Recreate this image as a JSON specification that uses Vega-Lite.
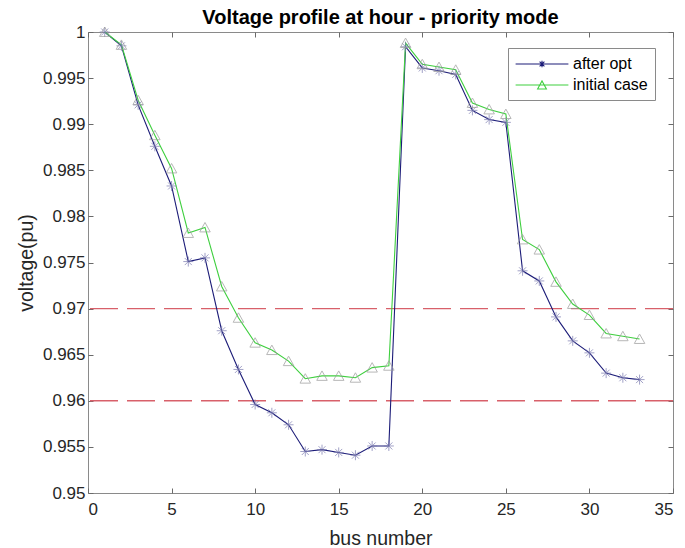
{
  "$schema": "https://vega.github.io/schema/vega-lite/v6.json",
  "autosize": {"type": "none"},
  "width": 585,
  "height": 461,
  "padding": {"left": 88, "top": 32, "right": 12, "bottom": 55},
  "background": "white",
  "config": {
    "view": {"stroke": "#8a8a8a", "strokeWidth": 1},
    "font": "Liberation Sans",
    "axis": {"grid": false, "domain": false, "tickColor": "#6a6a6a", "tickSize": -5, "labelFont": "Liberation Sans", "labelFontSize": 17, "labelColor": "#262626", "titleFont": "Liberation Sans", "titleFontSize": 19.5, "titleFontWeight": "normal", "titleColor": "#262626"}
  },
  "title": {"text": "Voltage profile at hour - priority mode", "font": "Liberation Sans", "fontSize": 20, "fontWeight": "bold", "color": "#000000", "offset": -5},
  "datasets": {
    "rules": [{"v": 0.97}, {"v": 0.96}],
    "volt": [
      {"bus": 1, "series": "after opt", "v": 1.0},
      {"bus": 2, "series": "after opt", "v": 0.9985},
      {"bus": 3, "series": "after opt", "v": 0.9921},
      {"bus": 4, "series": "after opt", "v": 0.9876},
      {"bus": 5, "series": "after opt", "v": 0.9833},
      {"bus": 6, "series": "after opt", "v": 0.9751},
      {"bus": 7, "series": "after opt", "v": 0.9755},
      {"bus": 8, "series": "after opt", "v": 0.9676},
      {"bus": 9, "series": "after opt", "v": 0.9634},
      {"bus": 10, "series": "after opt", "v": 0.9596},
      {"bus": 11, "series": "after opt", "v": 0.9587},
      {"bus": 12, "series": "after opt", "v": 0.9574},
      {"bus": 13, "series": "after opt", "v": 0.9545},
      {"bus": 14, "series": "after opt", "v": 0.9547},
      {"bus": 15, "series": "after opt", "v": 0.9544},
      {"bus": 16, "series": "after opt", "v": 0.9541},
      {"bus": 17, "series": "after opt", "v": 0.9551},
      {"bus": 18, "series": "after opt", "v": 0.9551},
      {"bus": 19, "series": "after opt", "v": 0.9984},
      {"bus": 20, "series": "after opt", "v": 0.9961},
      {"bus": 21, "series": "after opt", "v": 0.9958},
      {"bus": 22, "series": "after opt", "v": 0.9954},
      {"bus": 23, "series": "after opt", "v": 0.9915},
      {"bus": 24, "series": "after opt", "v": 0.9905},
      {"bus": 25, "series": "after opt", "v": 0.9902},
      {"bus": 26, "series": "after opt", "v": 0.9741},
      {"bus": 27, "series": "after opt", "v": 0.973},
      {"bus": 28, "series": "after opt", "v": 0.9691},
      {"bus": 29, "series": "after opt", "v": 0.9665},
      {"bus": 30, "series": "after opt", "v": 0.9652},
      {"bus": 31, "series": "after opt", "v": 0.963},
      {"bus": 32, "series": "after opt", "v": 0.9625},
      {"bus": 33, "series": "after opt", "v": 0.9623},
      {"bus": 1, "series": "initial case", "v": 1.0},
      {"bus": 2, "series": "initial case", "v": 0.9986},
      {"bus": 3, "series": "initial case", "v": 0.9926},
      {"bus": 4, "series": "initial case", "v": 0.9888},
      {"bus": 5, "series": "initial case", "v": 0.9852},
      {"bus": 6, "series": "initial case", "v": 0.9782},
      {"bus": 7, "series": "initial case", "v": 0.9788},
      {"bus": 8, "series": "initial case", "v": 0.9724},
      {"bus": 9, "series": "initial case", "v": 0.969},
      {"bus": 10, "series": "initial case", "v": 0.9663},
      {"bus": 11, "series": "initial case", "v": 0.9655},
      {"bus": 12, "series": "initial case", "v": 0.9643},
      {"bus": 13, "series": "initial case", "v": 0.9624},
      {"bus": 14, "series": "initial case", "v": 0.9627},
      {"bus": 15, "series": "initial case", "v": 0.9627},
      {"bus": 16, "series": "initial case", "v": 0.9625},
      {"bus": 17, "series": "initial case", "v": 0.9636},
      {"bus": 18, "series": "initial case", "v": 0.9638},
      {"bus": 19, "series": "initial case", "v": 0.9988},
      {"bus": 20, "series": "initial case", "v": 0.9965},
      {"bus": 21, "series": "initial case", "v": 0.9962},
      {"bus": 22, "series": "initial case", "v": 0.9959},
      {"bus": 23, "series": "initial case", "v": 0.9923},
      {"bus": 24, "series": "initial case", "v": 0.9916},
      {"bus": 25, "series": "initial case", "v": 0.9911},
      {"bus": 26, "series": "initial case", "v": 0.9775},
      {"bus": 27, "series": "initial case", "v": 0.9764},
      {"bus": 28, "series": "initial case", "v": 0.9729},
      {"bus": 29, "series": "initial case", "v": 0.9705},
      {"bus": 30, "series": "initial case", "v": 0.9693},
      {"bus": 31, "series": "initial case", "v": 0.9673},
      {"bus": 32, "series": "initial case", "v": 0.967},
      {"bus": 33, "series": "initial case", "v": 0.9667}
    ]
  },
  "resolve": {"axis": {"x": "independent", "y": "independent"}},
  "layer": [
    {
      "data": {"name": "rules"},
      "mark": {"type": "rule", "color": "#d8606a", "strokeWidth": 1.4, "strokeDash": [28, 9]},
      "encoding": {
        "y": {"field": "v", "type": "quantitative", "axis": null, "scale": {"domain": [0.95, 1], "nice": false, "zero": false}}
      }
    },
    {
      "data": {"name": "volt"},
      "mark": {"type": "line", "strokeWidth": 1.1},
      "encoding": {
        "x": {"field": "bus", "type": "quantitative", "title": "bus number", "scale": {"domain": [0, 35], "nice": false, "zero": false}, "axis": {"values": [0, 5, 10, 15, 20, 25, 30, 35], "labelPadding": 13, "titlePadding": 12}},
        "y": {"field": "v", "type": "quantitative", "title": "voltage(pu)", "scale": {"domain": [0.95, 1], "nice": false, "zero": false}, "axis": {"values": [0.95, 0.955, 0.96, 0.965, 0.97, 0.975, 0.98, 0.985, 0.99, 0.995, 1], "format": ".3~f", "labelPadding": 8, "titlePadding": 6}},
        "color": {"field": "series", "type": "nominal", "scale": {"domain": ["after opt", "initial case"], "range": ["#1c1c78", "#3fcf3f"]},
          "legend": {"title": null, "orient": "none", "legendX": 420, "legendY": 16, "padding": 7, "strokeColor": "#8a8a8a", "fillColor": "white", "labelFont": "Liberation Sans", "labelFontSize": 16, "labelColor": "#000000", "symbolSize": 256, "symbolStrokeWidth": 1.1, "symbolOffset": 18, "rowPadding": 4, "labelOffset": 22,
            "encode": {"symbols": {"update": {"shape": {"signal": "datum.label === 'after opt' ? 'M-3.3,0H3.3M-0.4,0H0.4M0,-0.4V0.4M-0.3,-0.3L0.3,0.3M-0.3,0.3L0.3,-0.3' : 'M-3.3,0H3.3M-0.55,0.5L0,-0.5L0.55,0.5Z'"}}}}}}
      }
    },
    {
      "data": {"name": "volt"},
      "transform": [{"filter": {"field": "series", "equal": "after opt"}}],
      "mark": {"type": "point", "filled": false, "strokeWidth": 1, "size": 100, "color": "#7b7bb0", "shape": "M-1,0H1M0,-1V1M-0.7,-0.7L0.7,0.7M-0.7,0.7L0.7,-0.7"},
      "encoding": {
        "x": {"field": "bus", "type": "quantitative", "axis": {"orient": "top", "labels": false, "title": null, "values": [0, 5, 10, 15, 20, 25, 30, 35]}},
        "y": {"field": "v", "type": "quantitative", "axis": {"orient": "right", "labels": false, "title": null, "values": [0.95, 0.955, 0.96, 0.965, 0.97, 0.975, 0.98, 0.985, 0.99, 0.995, 1]}}
      }
    },
    {
      "data": {"name": "volt"},
      "transform": [{"filter": {"field": "series", "equal": "initial case"}}],
      "mark": {"type": "point", "filled": false, "strokeWidth": 1, "size": 110, "color": "#9a9a9a", "shape": "M-1,0.85L0,-0.95L1,0.85Z"},
      "encoding": {
        "x": {"field": "bus", "type": "quantitative", "axis": null},
        "y": {"field": "v", "type": "quantitative", "axis": null}
      }
    }
  ]
}
